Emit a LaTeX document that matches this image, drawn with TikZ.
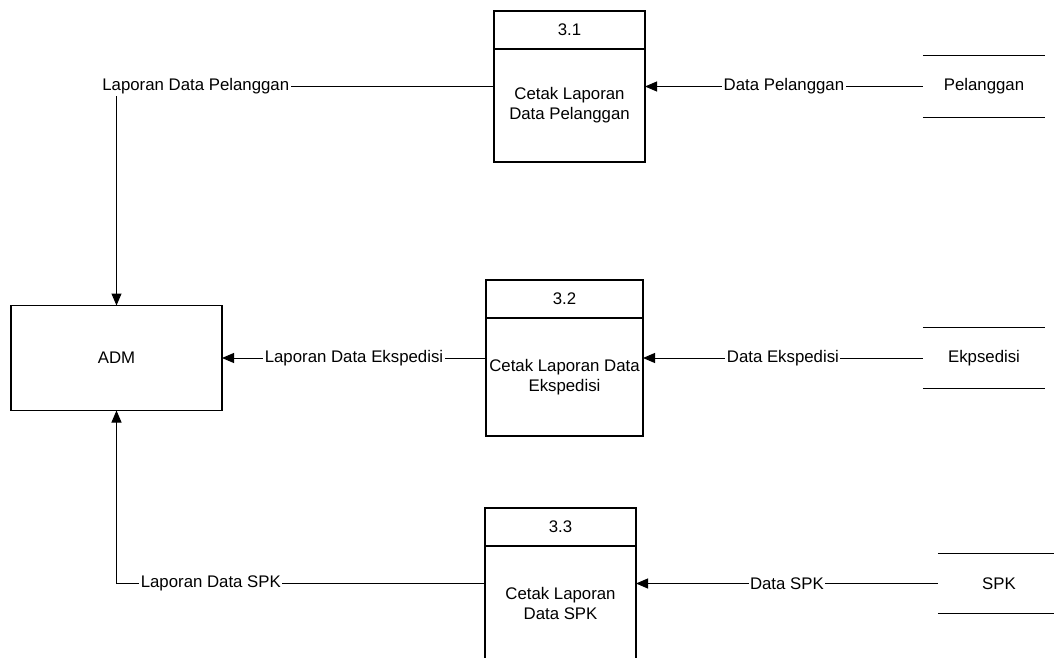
\documentclass[tikz,border=0pt]{standalone}
\usepackage{fontspec}
\setmainfont{Liberation Sans}
\usetikzlibrary{arrows.meta,calc,positioning}
\def\storelines(#1){\draw[line width=1.3pt] (#1.north west) -- (#1.north east) (#1.south west) -- (#1.south east);}

\begin{document}
\begin{tikzpicture}[x=1pt, y=-1pt, font=\fontsize{16.8}{20}\selectfont,
	box/.style={draw, line width=1.3pt, inner sep=0pt, outer sep=0pt},
	store/.style={minimum width=122pt, minimum height=61pt, inner sep=0pt},
	flow/.style={line width=1pt, -{Triangle[length=12pt, width=10pt]}},
	lbl/.style={fill=white, inner sep=1.5pt}]
			%%%%% START %%%%%
			\useasboundingbox (0, 0) rectangle (1054, 657);
			
			\node[box, minimum width=211pt, minimum height=105pt] (adm) at (116.5, 358) {ADM};
			
			\node[box, minimum width=151pt, minimum height=151pt] (p1) at (569.5, 86.5) {};
			\draw[line width=1.3pt] ($(p1.north west)+(0, 38)$) -- ($(p1.north east)+(0, 38)$);
			\node (p1n) at ($(p1.north)+(0, 19)$) {3.1};
			\node[align=center] (p1t) at ($(p1.north)+(0, 94.5)$) {Cetak Laporan\\Data Pelanggan};
			
			\node[box, minimum width=157pt, minimum height=156pt] (p2) at (564.5, 358) {};
			\draw[line width=1.3pt] ($(p2.north west)+(0, 38)$) -- ($(p2.north east)+(0, 38)$);
			\node (p2n) at ($(p2.north)+(0, 19)$) {3.2};
			\node[align=center] (p2t) at ($(p2.north)+(0, 97)$) {Cetak Laporan Data\\Ekspedisi};
			
			\node[box, minimum width=151pt, minimum height=151pt] (p3) at (560.5, 583.5) {};
			\draw[line width=1.3pt] ($(p3.north west)+(0, 38)$) -- ($(p3.north east)+(0, 38)$);
			\node (p3n) at ($(p3.north)+(0, 19)$) {3.3};
			\node[align=center] (p3t) at ($(p3.north)+(0, 95.5)$) {Cetak Laporan\\Data SPK};
			
			\node[store] (s1) at (984, 86.5) {Pelanggan};
			\storelines(s1)
			\node[store] (s2) at (984, 358) {Ekpsedisi};
			\storelines(s2)
			\node[store, minimum height=60pt] (s3) at (999, 583.5) {SPK};
			\storelines(s3)
			
			\draw[flow] (s1) -- node[lbl] {Data Pelanggan} (p1);
			\draw[flow] (s2) -- node[lbl] {Data Ekspedisi} (p2);
			\draw[flow] (s3) -- node[lbl] {Data SPK} (p3);
			
			\draw[flow] (p1) -| node[lbl, pos=0.395] {Laporan Data Pelanggan} (adm);
			\draw[flow] (p2) -- node[lbl] {Laporan Data Ekspedisi} (adm);
			\draw[flow] (p3) -| node[lbl, pos=0.372] {Laporan Data SPK} (adm);
			
			%%%%% END %%%%%
\end{tikzpicture}
\end{document}
